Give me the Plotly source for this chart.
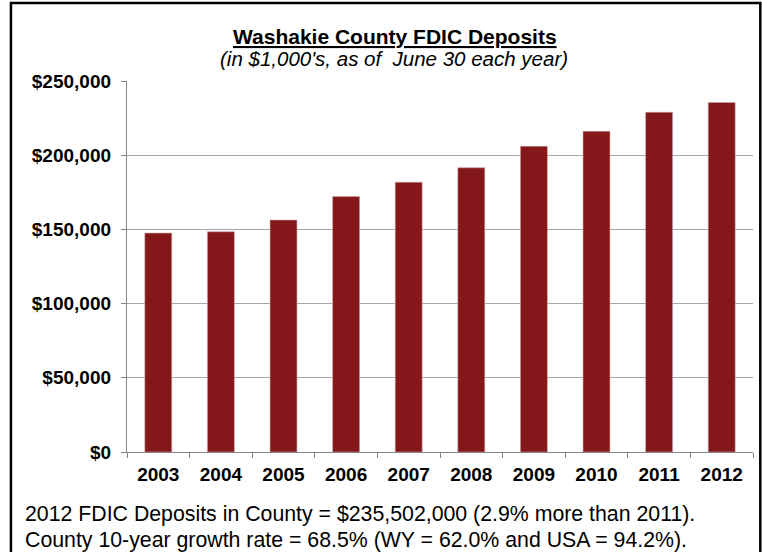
import plotly.graph_objects as go

years = ["2003", "2004", "2005", "2006", "2007", "2008", "2009", "2010", "2011", "2012"]
deposits = [147500, 148400, 156300, 172100, 181800, 191500, 206000, 216100, 228900, 235500]
y_ticks = [0, 50000, 100000, 150000, 200000, 250000]
y_tick_labels = ["$0", "$50,000", "$100,000", "$150,000", "$200,000", "$250,000"]

W, H = 762, 552
L, R, T, B = 127, 752.7, 81, 452.5

def px(x):
    return (x - L) / (R - L)

def py(y):
    return (B - y) / (B - T)

fig = go.Figure()
fig.add_trace(go.Bar(
    x=years, y=deposits,
    marker=dict(color="#831719", line=dict(color="#c9a0a0", width=0.6)),
    hoverinfo="x+y",
))

font = "Liberation Sans, Arial, sans-serif"
fig.update_layout(
    width=W, height=H,
    margin=dict(l=L, r=W - R, t=T, b=H - B, pad=0),
    paper_bgcolor="white", plot_bgcolor="white",
    bargap=0.57,
    showlegend=False,
    font=dict(family=font, color="black"),
    xaxis=dict(
        type="category",
        showline=True, linecolor="#868686", linewidth=1.3,
        ticks="outside", tickson="boundaries", ticklen=5, tickcolor="#868686", tickwidth=1.3,
        ticklabelstandoff=5,
        tickfont=dict(family=font, size=19, color="black", weight="bold"),
        showgrid=False,
    ),
    yaxis=dict(
        range=[0, 250000],
        tickvals=y_ticks, ticktext=y_tick_labels,
        showline=True, linecolor="#868686", linewidth=1.3,
        ticks="outside", ticklen=5, tickcolor="#868686", tickwidth=1.3,
        ticklabelstandoff=6,
        tickfont=dict(family=font, size=19, color="black", weight="bold"),
        showgrid=True, gridcolor="#a6a6a6", gridwidth=1,
        zeroline=False,
    ),
    annotations=[
        dict(text="<u>Washakie County FDIC Deposits</u>", xref="paper", yref="paper",
             x=px(395), y=py(36), xanchor="center", yanchor="middle", showarrow=False,
             font=dict(family=font, size=21, color="black", weight="bold")),
        dict(text="<i>(in $1,000's, as of  June 30 each year)</i>", xref="paper", yref="paper",
             x=px(394), y=py(58), xanchor="center", yanchor="middle", showarrow=False,
             font=dict(family=font, size=20.5, color="black")),
        dict(text="2012 FDIC Deposits in County = $235,502,000 (2.9% more than 2011).",
             xref="paper", yref="paper", x=px(23), y=py(514.5), xanchor="left", yanchor="middle",
             showarrow=False, font=dict(family=font, size=21.3, color="black")),
        dict(text="County 10-year growth rate = 68.5% (WY = 62.0% and USA = 94.2%).",
             xref="paper", yref="paper", x=px(23), y=py(540.5), xanchor="left", yanchor="middle",
             showarrow=False, font=dict(family=font, size=21.3, color="black")),
    ],
    shapes=[
        dict(type="path", xref="paper", yref="paper",
             path=f"M {px(11)},{py(560)} L {px(11)},{py(3)} L {px(760)},{py(3)} L {px(760)},{py(560)}",
             line=dict(color="black", width=2.5)),
    ],
)

fig.write_html("out.html", config={"displayModeBar": False},
               post_script="document.body.style.margin='0';document.body.style.overflow='hidden';")
